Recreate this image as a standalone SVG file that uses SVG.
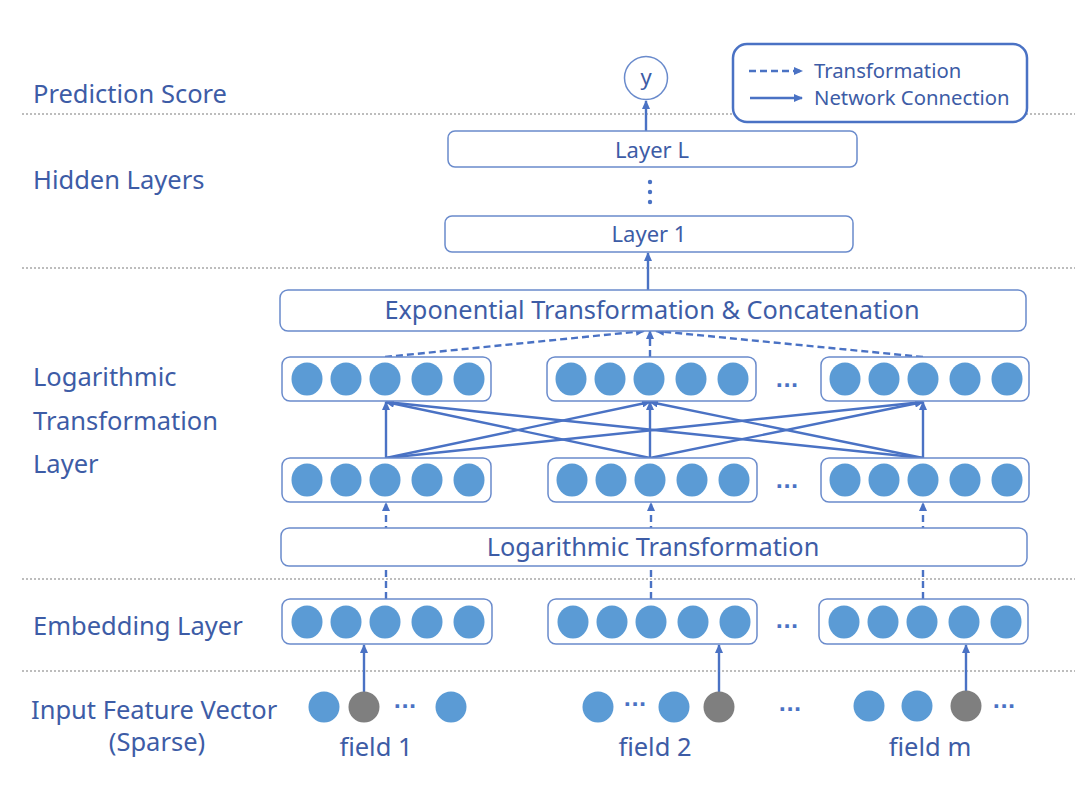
<svg xmlns="http://www.w3.org/2000/svg" width="1080" height="790" viewBox="0 0 1080 790">
<defs>
<marker id="ah" markerUnits="userSpaceOnUse" markerWidth="9" markerHeight="8" refX="8" refY="4" orient="auto">
<path d="M0,0 L9,4 L0,8 z" fill="#4a72c4"/>
</marker>
<style>
.lbl{font-family:"Noto Sans","Open Sans",sans-serif;font-size:25.5px;fill:#3d5ca6}
.bt{font-family:"Noto Sans","Open Sans",sans-serif;fill:#3d5ca6;text-anchor:middle}
.box{fill:#fff;stroke:#6a8bcc;stroke-width:1.5}
.sep{stroke:#a8a8a8;stroke-width:1.5;stroke-dasharray:2 2}
.sol{stroke:#4a72c4;stroke-width:2.4;fill:none;marker-end:url(#ah)}
.dsh{stroke:#4a72c4;stroke-width:2.4;fill:none;stroke-dasharray:7 4;marker-end:url(#ah)}
.b{fill:#5b9bd5}
.g{fill:#7f7f7f}
.dots{font-family:"DejaVu Sans",sans-serif;font-size:20px;font-weight:bold;fill:#4a72c4;text-anchor:middle}
</style>
</defs>
<rect width="1080" height="790" fill="#fff"/>

<g id="separators">
<line class="sep" x1="22" y1="114" x2="1075" y2="114"/>
<line class="sep" x1="22" y1="268" x2="1075" y2="268"/>
<line class="sep" x1="22" y1="579" x2="1075" y2="579"/>
<line class="sep" x1="22" y1="671" x2="1075" y2="671"/>
</g>

<g id="left-labels">
<text class="lbl" x="33" y="103">Prediction Score</text>
<text class="lbl" x="33" y="189">Hidden Layers</text>
<text class="lbl" x="33" y="386">Logarithmic</text>
<text class="lbl" x="33" y="430">Transformation</text>
<text class="lbl" x="33" y="473">Layer</text>
<text class="lbl" x="33" y="635">Embedding Layer</text>
<text class="lbl" x="31" y="719">Input Feature Vector</text>
<text class="lbl" x="157" y="751" text-anchor="middle">(Sparse)</text>
</g>

<g id="connectors">
<line class="sol" x1="646" y1="131" x2="646" y2="101"/>
<line class="sol" x1="648" y1="290" x2="648" y2="253"/>
<line class="dsh" x1="385" y1="357" x2="644" y2="331"/>
<line class="dsh" x1="650" y1="357" x2="650" y2="331"/>
<line class="dsh" x1="923" y1="357" x2="656" y2="331"/>
<line class="sol" x1="386" y1="458" x2="386" y2="402"/>
<line class="sol" x1="386" y1="458" x2="650" y2="402"/>
<line class="sol" x1="386" y1="458" x2="923" y2="402"/>
<line class="sol" x1="650" y1="458" x2="386" y2="402"/>
<line class="sol" x1="650" y1="458" x2="650" y2="402"/>
<line class="sol" x1="650" y1="458" x2="923" y2="402"/>
<line class="sol" x1="923" y1="458" x2="386" y2="402"/>
<line class="sol" x1="923" y1="458" x2="650" y2="402"/>
<line class="sol" x1="923" y1="458" x2="923" y2="402"/>
<line class="dsh" x1="386" y1="599" x2="386" y2="503"/>
<line class="dsh" x1="651" y1="599" x2="651" y2="503"/>
<line class="dsh" x1="923" y1="599" x2="923" y2="503"/>
<line class="sol" x1="364" y1="692" x2="364" y2="645"/>
<line class="sol" x1="719" y1="692" x2="719" y2="645"/>
<line class="sol" x1="966" y1="692" x2="966" y2="645"/>
</g>

<g id="legend">
<rect x="733" y="44" width="294" height="78" rx="14" fill="#fff" stroke="#4a72c4" stroke-width="2.5"/>
<line class="dsh" x1="749" y1="71" x2="802" y2="71" stroke-dasharray="5 3"/>
<line class="sol" x1="750" y1="98" x2="802" y2="98"/>
<text class="bt" x="814" y="78" font-size="20.3" style="text-anchor:start">Transformation</text>
<text class="bt" x="814" y="105" font-size="20.3" style="text-anchor:start">Network Connection</text>
</g>

<g id="output-y">
<circle cx="646" cy="78" r="21.5" fill="#fff" stroke="#6a8bcc" stroke-width="1.5"/>
<text class="bt" x="646" y="85" font-size="22">y</text>
</g>

<g id="layer-L">
<rect class="box" x="448" y="131" width="409" height="36" rx="7"/>
<text class="bt" x="652" y="158" font-size="22">Layer L</text>
</g>
<g id="hidden-dots">
<circle cx="650" cy="182" r="2.2" fill="#4a72c4"/>
<circle cx="650" cy="192" r="2.2" fill="#4a72c4"/>
<circle cx="650" cy="202" r="2.2" fill="#4a72c4"/>
</g>
<g id="layer-1">
<rect class="box" x="445" y="216" width="408" height="36" rx="7"/>
<text class="bt" x="649" y="242" font-size="22">Layer 1</text>
</g>

<g id="exp-concat">
<rect class="box" x="280" y="290" width="746" height="41" rx="8"/>
<text class="bt" x="652" y="319" font-size="25.3">Exponential Transformation &amp; Concatenation</text>
</g>

<g id="log-upper-1">
<rect class="box" x="282" y="357" width="209" height="44" rx="8"/>
<ellipse class="b" cx="307" cy="379" rx="15.5" ry="16.5"/><ellipse class="b" cx="346" cy="379" rx="15.5" ry="16.5"/><ellipse class="b" cx="385" cy="379" rx="15.5" ry="16.5"/><ellipse class="b" cx="427" cy="379" rx="15.5" ry="16.5"/><ellipse class="b" cx="469" cy="379" rx="15.5" ry="16.5"/>
</g>
<g id="log-upper-2">
<rect class="box" x="547" y="357" width="209" height="44" rx="8"/>
<ellipse class="b" cx="571" cy="379" rx="15.5" ry="16.5"/><ellipse class="b" cx="610" cy="379" rx="15.5" ry="16.5"/><ellipse class="b" cx="649" cy="379" rx="15.5" ry="16.5"/><ellipse class="b" cx="691" cy="379" rx="15.5" ry="16.5"/><ellipse class="b" cx="733" cy="379" rx="15.5" ry="16.5"/>
</g>
<text class="dots" x="787" y="392">···</text>
<g id="log-upper-3">
<rect class="box" x="821" y="357" width="208" height="44" rx="8"/>
<ellipse class="b" cx="845" cy="379" rx="15.5" ry="16.5"/><ellipse class="b" cx="884" cy="379" rx="15.5" ry="16.5"/><ellipse class="b" cx="923" cy="379" rx="15.5" ry="16.5"/><ellipse class="b" cx="965" cy="379" rx="15.5" ry="16.5"/><ellipse class="b" cx="1007" cy="379" rx="15.5" ry="16.5"/>
</g>

<g id="log-lower-1">
<rect class="box" x="282" y="458" width="209" height="44" rx="8"/>
<ellipse class="b" cx="307" cy="480" rx="15.5" ry="16.5"/><ellipse class="b" cx="346" cy="480" rx="15.5" ry="16.5"/><ellipse class="b" cx="385" cy="480" rx="15.5" ry="16.5"/><ellipse class="b" cx="427" cy="480" rx="15.5" ry="16.5"/><ellipse class="b" cx="469" cy="480" rx="15.5" ry="16.5"/>
</g>
<g id="log-lower-2">
<rect class="box" x="548" y="458" width="209" height="44" rx="8"/>
<ellipse class="b" cx="572" cy="480" rx="15.5" ry="16.5"/><ellipse class="b" cx="611" cy="480" rx="15.5" ry="16.5"/><ellipse class="b" cx="650" cy="480" rx="15.5" ry="16.5"/><ellipse class="b" cx="692" cy="480" rx="15.5" ry="16.5"/><ellipse class="b" cx="734" cy="480" rx="15.5" ry="16.5"/>
</g>
<text class="dots" x="787" y="493">···</text>
<g id="log-lower-3">
<rect class="box" x="821" y="458" width="208" height="44" rx="8"/>
<ellipse class="b" cx="845" cy="480" rx="15.5" ry="16.5"/><ellipse class="b" cx="884" cy="480" rx="15.5" ry="16.5"/><ellipse class="b" cx="923" cy="480" rx="15.5" ry="16.5"/><ellipse class="b" cx="965" cy="480" rx="15.5" ry="16.5"/><ellipse class="b" cx="1007" cy="480" rx="15.5" ry="16.5"/>
</g>

<g id="log-transform">
<rect class="box" x="281" y="528" width="746" height="38" rx="8"/>
<text class="bt" x="653" y="556" font-size="25.3">Logarithmic Transformation</text>
</g>

<g id="embed-1">
<rect class="box" x="282" y="599" width="210" height="45" rx="8"/>
<ellipse class="b" cx="307" cy="622" rx="15.5" ry="16.5"/><ellipse class="b" cx="346" cy="622" rx="15.5" ry="16.5"/><ellipse class="b" cx="385" cy="622" rx="15.5" ry="16.5"/><ellipse class="b" cx="427" cy="622" rx="15.5" ry="16.5"/><ellipse class="b" cx="469" cy="622" rx="15.5" ry="16.5"/>
</g>
<g id="embed-2">
<rect class="box" x="548" y="599" width="209" height="45" rx="8"/>
<ellipse class="b" cx="573" cy="622" rx="15.5" ry="16.5"/><ellipse class="b" cx="612" cy="622" rx="15.5" ry="16.5"/><ellipse class="b" cx="651" cy="622" rx="15.5" ry="16.5"/><ellipse class="b" cx="693" cy="622" rx="15.5" ry="16.5"/><ellipse class="b" cx="735" cy="622" rx="15.5" ry="16.5"/>
</g>
<text class="dots" x="787" y="633">···</text>
<g id="embed-3">
<rect class="box" x="819" y="599" width="209" height="45" rx="8"/>
<ellipse class="b" cx="844" cy="622" rx="15.5" ry="16.5"/><ellipse class="b" cx="883" cy="622" rx="15.5" ry="16.5"/><ellipse class="b" cx="922" cy="622" rx="15.5" ry="16.5"/><ellipse class="b" cx="964" cy="622" rx="15.5" ry="16.5"/><ellipse class="b" cx="1006" cy="622" rx="15.5" ry="16.5"/>
</g>

<g id="field-1">
<circle class="b" cx="324" cy="707" r="15.5"/>
<circle class="g" cx="364" cy="707" r="15.5"/>
<text class="dots" x="405" y="713">···</text>
<circle class="b" cx="451" cy="707" r="15.5"/>
<text class="bt" x="376" y="756" font-size="25.5">field 1</text>
</g>
<g id="field-2">
<circle class="b" cx="598" cy="707" r="15.5"/>
<text class="dots" x="635" y="711">···</text>
<circle class="b" cx="674" cy="707" r="15.5"/>
<circle class="g" cx="719" cy="707" r="15.5"/>
<text class="bt" x="655" y="756" font-size="25.5">field 2</text>
</g>
<text class="dots" x="790" y="716">···</text>
<g id="field-m">
<circle class="b" cx="869" cy="706" r="15.5"/>
<circle class="b" cx="917" cy="706" r="15.5"/>
<circle class="g" cx="966" cy="706" r="15.5"/>
<text class="dots" x="1004" y="713">···</text>
<text class="bt" x="930" y="756" font-size="25.5">field m</text>
</g>
</svg>
